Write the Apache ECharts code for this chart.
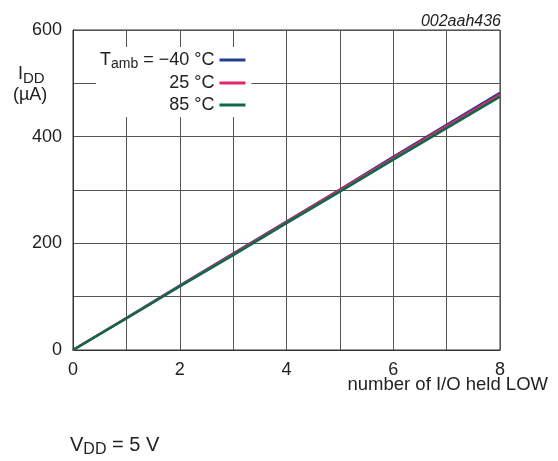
<!DOCTYPE html>
<html lang="en">
<head>
    <meta charset="UTF-8"/>
    <title>IDD vs number of I/O held LOW</title>
    <script src="https://cdn.jsdelivr.net/npm/echarts@6/dist/echarts.min.js"></script>
    <style>
        html, body { margin: 0; padding: 0; background: #fff; }
        #main { width: 558px; height: 461px; }
    </style>
</head>
<body>
<div id="main"></div>
<script>
    // x: number of I/O held LOW
    var ioCount = [0, 1, 2, 3, 4, 5, 6, 7, 8];
    // IDD (uA) per temperature
    var iddMinus40 = [0, 60, 121, 181, 241, 301, 362, 422, 482];
    var idd25 = [0, 60, 120, 180, 240, 300, 360, 420, 479];
    var idd85 = [0, 59, 119, 178, 238, 297, 357, 416, 475];
    var xTickLabels = ['0', '2', '4', '6', '8'];
    var yTickLabels = ['0', '200', '400', '600'];

    var colors = ['#233e91', '#e3256a', '#0b6b47'];
    var font = '"Liberation Sans", Arial, sans-serif';

    function pairs(ys) {
        var out = [];
        for (var i = 0; i < ioCount.length; i++) {
            out.push([ioCount[i], ys[i]]);
        }
        return out;
    }

    var myChart = echarts.init(document.getElementById('main'), null, {renderer: 'canvas'});

    myChart.setOption({
        animation: false,
        color: colors,
        title: {
            text: '002aah436',
            right: 52,
            top: 9,
            textStyle: {fontFamily: font, fontSize: 16, fontStyle: 'italic', fontWeight: 'normal', color: '#222'}
        },
        grid: {
            left: 73, right: 58, top: 30, bottom: 111,
            containLabel: false,
            outerBoundsMode: 'none',
            show: true, borderColor: '#333', borderWidth: 1
        },
        legend: {
            orient: 'vertical',
            align: 'right',
            left: 96,
            top: 47,
            padding: [2, 6, 2, 4],
            itemGap: 2,
            itemWidth: 26,
            itemHeight: 3,
            icon: 'rect',
            backgroundColor: '#fff',
            selectedMode: false,
            textStyle: {
                fontFamily: font, fontSize: 18, color: '#222', lineHeight: 20,
                rich: {
                    n: {fontFamily: font, fontSize: 18, color: '#222', lineHeight: 20},
                    s: {fontFamily: font, fontSize: 14, color: '#222', lineHeight: 20, padding: [8, 0, 0, 0]}
                }
            },
            formatter: function (name) {
                if (name.indexOf('-40') >= 0) {
                    return '{n|T}{s|amb}{n| = \u221240 \u00b0C}';
                }
                return name;
            },
            data: ['-40 °C', '25 °C', '85 °C']
        },
        xAxis: {
            type: 'value',
            min: 0, max: 8, interval: 1,
            axisLine: {show: true, lineStyle: {color: '#333', width: 1}},
            axisTick: {show: false},
            axisLabel: {
                margin: 11, fontFamily: font, fontSize: 18, color: '#222',
                formatter: function (v) { return xTickLabels.indexOf(String(v)) >= 0 ? String(v) : ''; }
            },
            splitLine: {show: true, lineStyle: {color: '#555', width: 1}}
        },
        yAxis: {
            type: 'value',
            min: 0, max: 600, interval: 100,
            axisLine: {show: true, lineStyle: {color: '#333', width: 1}},
            axisTick: {show: false},
            axisLabel: {
                margin: 11, fontFamily: font, fontSize: 18, color: '#222',
                formatter: function (v) { return yTickLabels.indexOf(String(v)) >= 0 ? String(v) : ''; }
            },
            splitLine: {show: true, lineStyle: {color: '#555', width: 1}}
        },
        graphic: [
            {
                type: 'text', left: 18, top: 63,
                style: {
                    text: '{n|I}{s|DD}',
                    rich: {
                        n: {fontFamily: font, fontSize: 18, fill: '#222', lineHeight: 20},
                        s: {fontFamily: font, fontSize: 15, fill: '#222', lineHeight: 20, padding: [8, 0, 0, 0]}
                    }
                }
            },
            {
                type: 'text', left: 13, top: 86,
                style: {text: '(\u00b5A)', font: '18px ' + font, fill: '#222'}
            },
            {
                type: 'text', right: 10, top: 375,
                style: {text: 'number of I/O held LOW', font: '18.5px ' + font, fill: '#222'}
            },
            {
                type: 'text', left: 70, top: 432,
                style: {
                    text: '{n|V}{s|DD}{n| = 5 V}',
                    rich: {
                        n: {fontFamily: font, fontSize: 20, fill: '#222', lineHeight: 22},
                        s: {fontFamily: font, fontSize: 16, fill: '#222', lineHeight: 22, padding: [10, 0, 0, 0]}
                    }
                }
            }
        ],
        series: [
            {name: '-40 °C', type: 'line', data: pairs(iddMinus40), showSymbol: false, lineStyle: {width: 2.5}},
            {name: '25 °C', type: 'line', data: pairs(idd25), showSymbol: false, lineStyle: {width: 2.5}},
            {name: '85 °C', type: 'line', data: pairs(idd85), showSymbol: false, lineStyle: {width: 2.5}}
        ]
    });
</script>
</body>
</html>
